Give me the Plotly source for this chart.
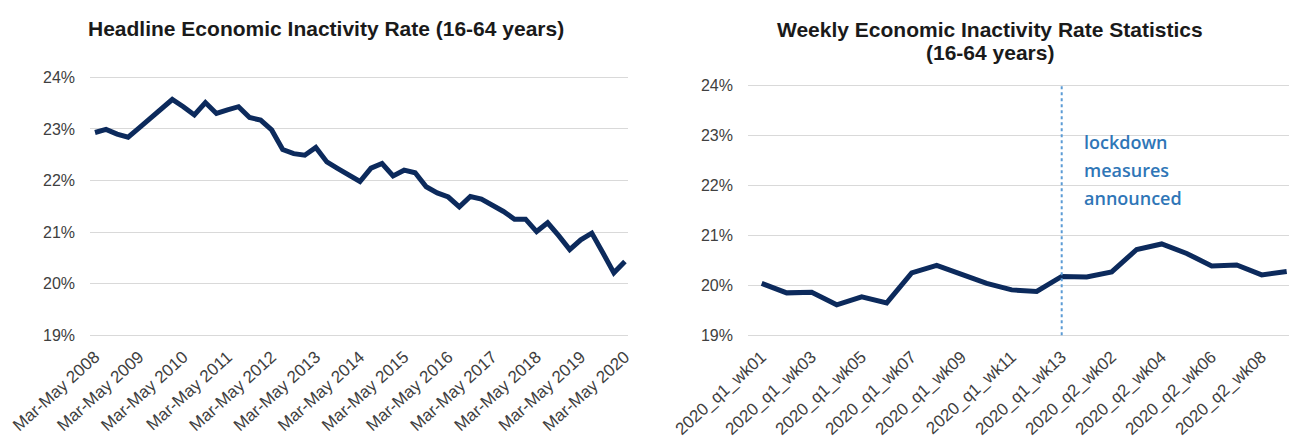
import plotly.graph_objects as go

# ---------------------------------------------------------------- data
years = list(range(2008, 2021))
season_names = ["Mar-May", "Jun-Aug", "Sep-Nov", "Dec-Feb"]

# quarterly periods, Mar-May 2008 .. Mar-May 2020
headline_periods = []
for y in years:
    for s in season_names:
        yr = y + 1 if s == "Dec-Feb" else y
        headline_periods.append(f"{s} {yr}")
headline_periods = headline_periods[:49]

headline_rate = [
    22.93, 22.99, 22.90, 22.84, 23.02, 23.20, 23.39, 23.57, 23.43, 23.27,
    23.51, 23.30, 23.37, 23.43, 23.22, 23.17, 22.98, 22.60, 22.52, 22.49,
    22.64, 22.36, 22.23, 22.10, 21.98, 22.24, 22.33, 22.09, 22.20, 22.15,
    21.88, 21.76, 21.68, 21.49, 21.69, 21.64, 21.52, 21.40, 21.25, 21.25,
    21.01, 21.18, 20.93, 20.66, 20.85, 20.98, 20.60, 20.21, 20.43,
]
headline_ticks = [f"Mar-May {y}" for y in years]

weekly_periods = [f"2020_q1_wk{w:02d}" for w in range(1, 14)] + \
                 [f"2020_q2_wk{w:02d}" for w in range(1, 10)]
weekly_rate = [
    20.04, 19.85, 19.86, 19.61, 19.77, 19.65, 20.25, 20.40, 20.22, 20.04,
    19.91, 19.88, 20.18, 20.17, 20.27, 20.72, 20.83, 20.64, 20.39, 20.41,
    20.21, 20.28,
]
weekly_ticks = weekly_periods[0:13:2] + weekly_periods[14:21:2]

lockdown_week = "2020_q1_wk13"
lockdown_text = ["lockdown", "measures", "announced"]

y_ticks = [19, 20, 21, 22, 23, 24]
y_ticktext = [f"{v}%" for v in y_ticks]

# ---------------------------------------------------------------- layout helpers
W, H = 1289, 442
LINE = "#0c2a5c"
GRID = "#d9d9d9"
FONT = "Liberation Sans, Arial, sans-serif"


def x_domain(first_px, step_px, lo, hi):
    a = (first_px + lo * step_px) / W
    b = (first_px + hi * step_px) / W
    return [max(0.0, a), min(1.0, b)]


def y_domain(px_top, px_bottom, vlo, vhi, rlo, rhi):
    scale = (px_bottom - px_top) / (vhi - vlo)
    top = px_top - (rhi - vhi) * scale
    bot = px_bottom + (vlo - rlo) * scale
    return [1 - bot / H, 1 - top / H]


YR = [18.97, 24.03]
x1_range = [-0.45, 48.3]
x2_range = [-0.55, 21.09]

fig = go.Figure()

fig.add_trace(go.Scatter(
    x=headline_periods, y=headline_rate, mode="lines",
    line=dict(color=LINE, width=5), xaxis="x", yaxis="y",
    showlegend=False,
))
fig.add_trace(go.Scatter(
    x=weekly_periods, y=weekly_rate, mode="lines",
    line=dict(color=LINE, width=5), xaxis="x2", yaxis="y2",
    showlegend=False,
))

ytick_font = dict(family=FONT, size=16, color="#404040")
xtick_font = dict(family=FONT, size=17, color="#404040")

common_y = dict(
    range=YR, tickvals=y_ticks, ticktext=y_ticktext, showgrid=True,
    gridcolor=GRID, gridwidth=1, zeroline=False, showline=False,
    ticks="", tickfont=ytick_font, ticklabelstandoff=14, fixedrange=True,
    automargin=False,
)
common_x = dict(
    type="category", showgrid=False, zeroline=False, showline=False,
    ticks="", tickangle=-42, tickfont=xtick_font, ticklabelstandoff=6,
    fixedrange=True, automargin=False,
)

fig.update_layout(
    width=W, height=H,
    margin=dict(l=0, r=0, t=0, b=0, autoexpand=False),
    paper_bgcolor="white", plot_bgcolor="white",
    xaxis=dict(common_x, domain=x_domain(95, 11.04, *x1_range),
               range=x1_range, tickmode="array", tickvals=headline_ticks,
               ticktext=headline_ticks, anchor="y",
               categoryorder="array", categoryarray=headline_periods),
    yaxis=dict(common_y, domain=y_domain(77.3, 335.3, 19, 24, *YR),
               anchor="x"),
    xaxis2=dict(common_x, domain=x_domain(761.7, 25.0, *x2_range),
                range=x2_range, tickmode="array", tickvals=weekly_ticks,
                ticktext=weekly_ticks, anchor="y2",
                categoryorder="array", categoryarray=weekly_periods),
    yaxis2=dict(common_y, domain=y_domain(85.7, 335.3, 19, 24, *YR),
                anchor="x2"),
)

# lockdown marker and white box behind the note
fig.add_shape(type="line", xref="x2", yref="y2",
              x0=lockdown_week, x1=lockdown_week, y0=19, y1=24,
              line=dict(color="#5b9bd5", width=2, dash="dot"), layer="above")
fig.add_shape(type="rect", xref="paper", yref="paper",
              x0=1068 / W, x1=1225 / W, y0=1 - 225 / H, y1=1 - 100 / H,
              fillcolor="white", line=dict(width=0), layer="between")

for i, word in enumerate(lockdown_text):
    fig.add_annotation(
        text=word, xref="paper", yref="paper",
        x=1082 / W, y=1 - (142 + 27.8 * i) / H,
        xanchor="left", yanchor="middle", showarrow=False,
        font=dict(family="Open Sans, sans-serif", size=18, color="#2f76b7",
                  weight=600),
    )

title_font = dict(family=FONT, size=21, color="#1a1a1a", weight="bold")
fig.add_annotation(text="Headline Economic Inactivity Rate (16-64 years)",
                   xref="paper", yref="paper", x=326 / W, y=1 - 28 / H,
                   xanchor="center", yanchor="middle", showarrow=False,
                   font=title_font)
fig.add_annotation(text="Weekly Economic Inactivity Rate Statistics",
                   xref="paper", yref="paper", x=990 / W, y=1 - 30 / H,
                   xanchor="center", yanchor="middle", showarrow=False,
                   font=title_font)
fig.add_annotation(text="(16-64 years)",
                   xref="paper", yref="paper", x=990 / W, y=1 - 52 / H,
                   xanchor="center", yanchor="middle", showarrow=False,
                   font=title_font)

fig.write_html("out.html")
